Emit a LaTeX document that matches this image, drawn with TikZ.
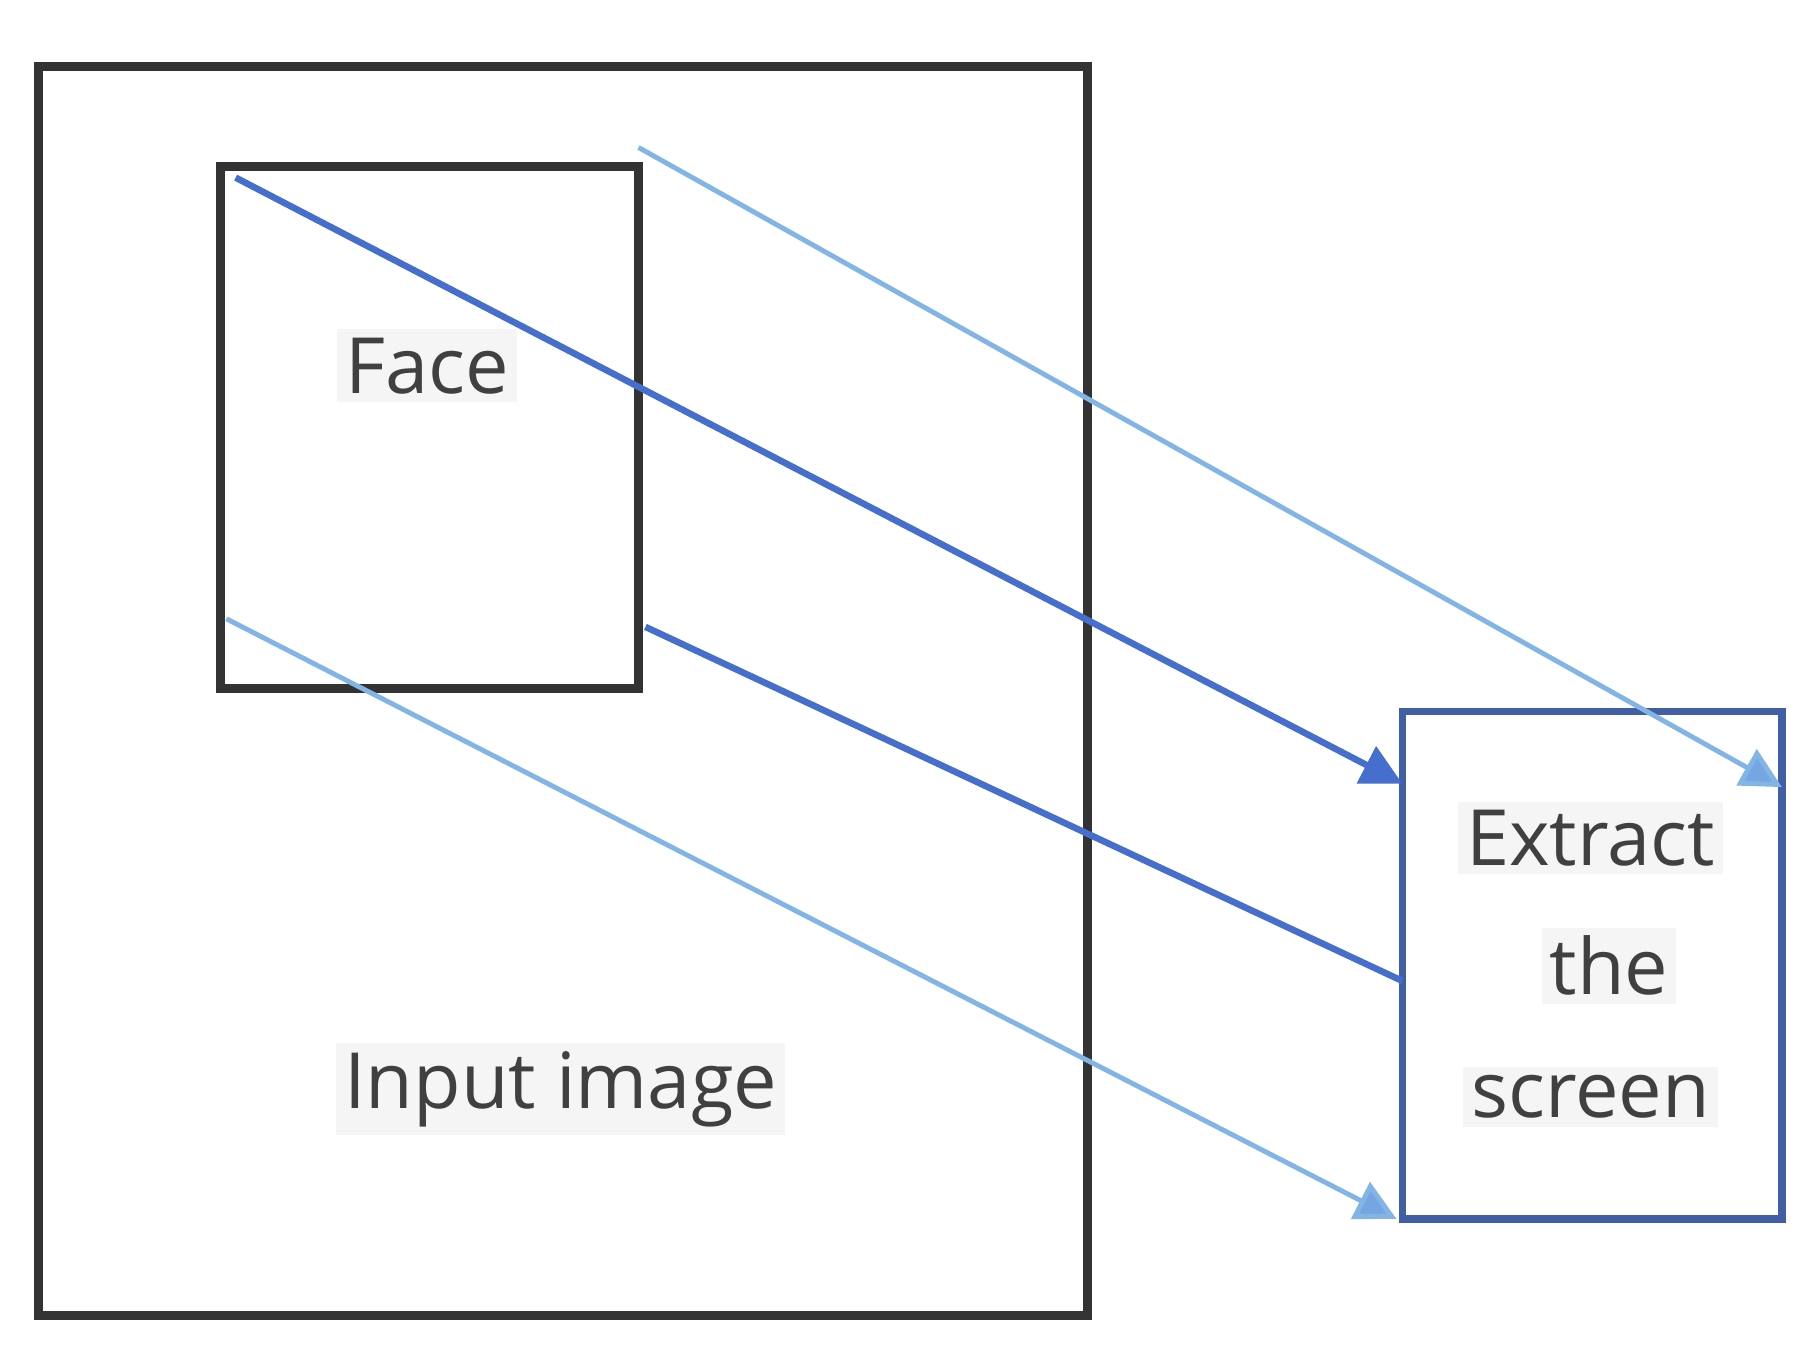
\documentclass[tikz,border=0pt]{standalone}
\usepackage{fontspec}
\setmainfont{Open Sans}
\usetikzlibrary{arrows.meta, positioning}
\definecolor{darkline}{RGB}{70,110,205}
\definecolor{lightline}{RGB}{130,180,230}
\definecolor{boxblue}{RGB}{65,95,165}

\begin{document}
\begin{tikzpicture}[
    x=0.01cm, y=-0.01cm,
    every node/.style={font=\fontsize{19}{23}\selectfont, text=black!75},
    % boxes
    frame/.style={draw=black!80, line width=2.2pt},
    outbox/.style={draw=boxblue, line width=1.8pt},
    label/.style={fill=black!4, inner sep=2pt},
    % connectors
    light/.style={draw=lightline, line width=1.2pt, -{Triangle[length=3.5mm, width=3.5mm, fill=lightline!80!darkline]}},
    dark/.style={draw=darkline, line width=1.6pt},
    tip/.style={-{Triangle[length=3.5mm, width=3.5mm]}}
]
\useasboundingbox (0,0) rectangle (1560,1163);

% === BOXES ===
\draw[frame] (33,57) rectangle (937,1133);
\draw[frame] (190,143) rectangle (550,593);
\draw[outbox] (1208,613) rectangle (1535,1050);

% === TEXTS ===
\node[label] (face) at (368,315) {Face};
\node[label] (input) at (483,938) {Input image};
\node[label] (extract) at (1370,722) {Extract};
\node[label] (the) at (1386,832) {the};
\node[label] (screen) at (1370,945) {screen};

% === CONNECTORS ===
\coordinate (a1) at (550,127);   \coordinate (b1) at (1535,678);
\coordinate (a2) at (203,153);   \coordinate (b2) at (1208,675);
\coordinate (a3) at (556,540);   \coordinate (b3) at (1208,845);
\coordinate (a4) at (195,533);   \coordinate (b4) at (1203,1050);
\draw[light] (a1) -- (b1);
\draw[dark, tip] (a2) -- (b2);
\draw[dark] (a3) -- (b3);
\draw[light] (a4) -- (b4);

\end{tikzpicture}
\end{document}
